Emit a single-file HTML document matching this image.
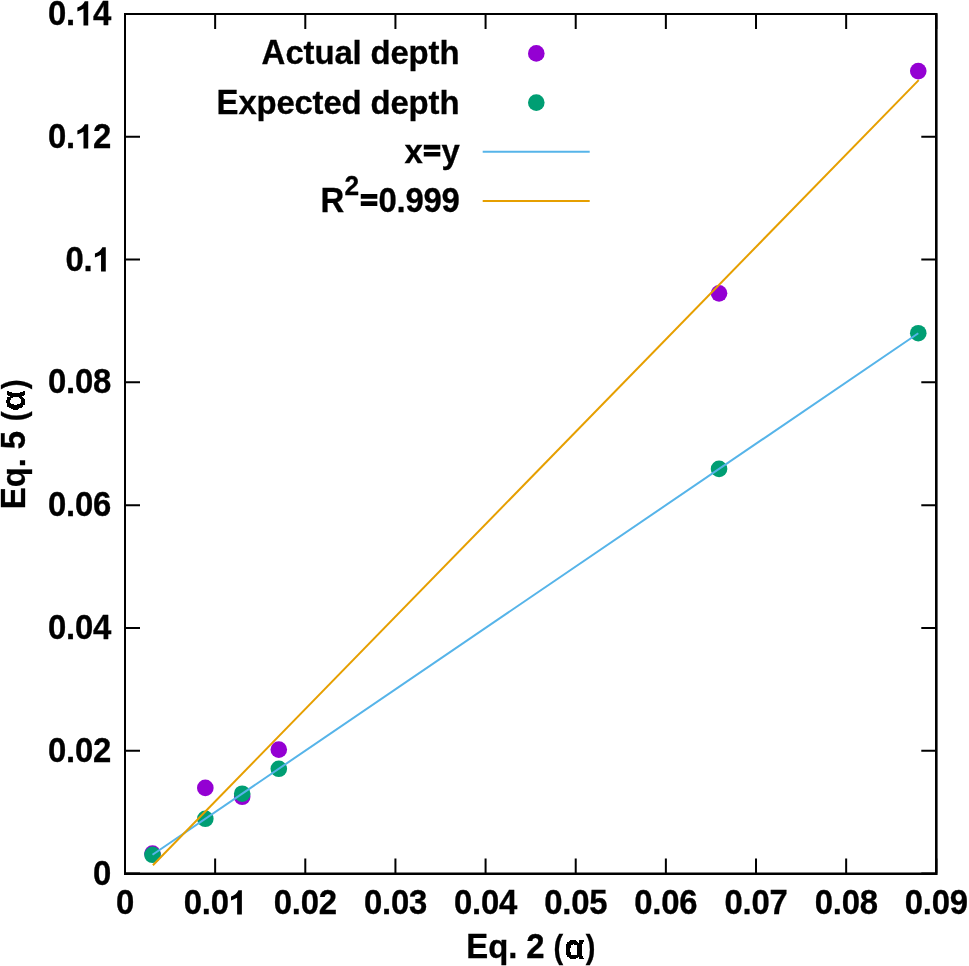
<!DOCTYPE html>
<html><head><meta charset="utf-8"><title>chart</title>
<style>
html,body{margin:0;padding:0;background:#fff;}
body{width:969px;height:966px;overflow:hidden;}
#w{width:969px;height:966px;will-change:transform;background:#fff;}
svg{display:block;}
text{font-family:"Liberation Sans",sans-serif;font-weight:bold;font-size:32.9px;fill:#000;stroke:#000;stroke-width:0.3px;stroke-linejoin:miter;font-kerning:none;white-space:pre;}
</style></head><body><div id="w">
<svg width="969" height="966" viewBox="0 0 969 966">
<rect x="0" y="0" width="969" height="966" fill="#fff"/>
<g stroke="#000" stroke-width="2" fill="none" stroke-linecap="butt">
<path d="M125.00 873.50H140.00 M936.30 873.50H921.30"/>
<path d="M125.00 750.71H140.00 M936.30 750.71H921.30"/>
<path d="M125.00 627.93H140.00 M936.30 627.93H921.30"/>
<path d="M125.00 505.14H140.00 M936.30 505.14H921.30"/>
<path d="M125.00 382.36H140.00 M936.30 382.36H921.30"/>
<path d="M125.00 259.57H140.00 M936.30 259.57H921.30"/>
<path d="M125.00 136.79H140.00 M936.30 136.79H921.30"/>
<path d="M125.00 14.00H140.00 M936.30 14.00H921.30"/>
<path d="M125.00 873.50V858.50 M125.00 14.00V29.00"/>
<path d="M215.14 873.50V858.50 M215.14 14.00V29.00"/>
<path d="M305.29 873.50V858.50 M305.29 14.00V29.00"/>
<path d="M395.43 873.50V858.50 M395.43 14.00V29.00"/>
<path d="M485.58 873.50V858.50 M485.58 14.00V29.00"/>
<path d="M575.72 873.50V858.50 M575.72 14.00V29.00"/>
<path d="M665.87 873.50V858.50 M665.87 14.00V29.00"/>
<path d="M756.01 873.50V858.50 M756.01 14.00V29.00"/>
<path d="M846.16 873.50V858.50 M846.16 14.00V29.00"/>
<path d="M936.30 873.50V858.50 M936.30 14.00V29.00"/>
</g>
<g id="labels">
<g transform="translate(111.00 885.40)"><text transform="translate(-18.00 0.00) scale(1 1.088)" x="0">0</text></g>
<g transform="translate(111.00 762.40)"><text transform="translate(-63.00 0.00) scale(1 1.088)" x="0">0</text><text transform="translate(-45.00 0.00)" x="0">.</text><text transform="translate(-36.00 0.00) scale(1 1.088)" x="0 18">02</text></g>
<g transform="translate(111.00 639.40)"><text transform="translate(-63.00 0.00) scale(1 1.088)" x="0">0</text><text transform="translate(-45.00 0.00)" x="0">.</text><text transform="translate(-36.00 0.00) scale(1 1.088)" x="0 18">04</text></g>
<g transform="translate(111.00 516.40)"><text transform="translate(-63.00 0.00) scale(1 1.088)" x="0">0</text><text transform="translate(-45.00 0.00)" x="0">.</text><text transform="translate(-36.00 0.00) scale(1 1.088)" x="0 18">06</text></g>
<g transform="translate(111.00 393.40)"><text transform="translate(-63.00 0.00) scale(1 1.088)" x="0">0</text><text transform="translate(-45.00 0.00)" x="0">.</text><text transform="translate(-36.00 0.00) scale(1 1.088)" x="0 18">08</text></g>
<g transform="translate(110.55 271.40)"><text transform="translate(-45.00 0.00) scale(1 1.088)" x="0">0</text><text transform="translate(-27.00 0.00)" x="0">.</text><path transform="translate(-18.00 0.00) scale(0.03290 -0.03405)" d="M402 0H258V491Q165 445 72 408V524Q150 548 215 600Q270 645 297 710H402Z"/></g>
<g transform="translate(111.00 148.40)"><text transform="translate(-63.00 0.00) scale(1 1.088)" x="0">0</text><text transform="translate(-45.00 0.00)" x="0">.</text><path transform="translate(-36.00 0.00) scale(0.03290 -0.03405)" d="M402 0H258V491Q165 445 72 408V524Q150 548 215 600Q270 645 297 710H402Z"/><text transform="translate(-18.00 0.00) scale(1 1.088)" x="0">2</text></g>
<g transform="translate(111.00 25.40)"><text transform="translate(-63.00 0.00) scale(1 1.088)" x="0">0</text><text transform="translate(-45.00 0.00)" x="0">.</text><path transform="translate(-36.00 0.00) scale(0.03290 -0.03405)" d="M402 0H258V491Q165 445 72 408V524Q150 548 215 600Q270 645 297 710H402Z"/><text transform="translate(-18.00 0.00) scale(1 1.088)" x="0">4</text></g>
<g transform="translate(125.00 914.40)"><text transform="translate(-9.00 0.00) scale(1 1.088)" x="0">0</text></g>
<g transform="translate(215.14 914.40)"><text transform="translate(-31.50 0.00) scale(1 1.088)" x="0">0</text><text transform="translate(-13.50 0.00)" x="0">.</text><text transform="translate(-4.50 0.00) scale(1 1.088)" x="0">0</text><path transform="translate(13.50 0.00) scale(0.03290 -0.03405)" d="M402 0H258V491Q165 445 72 408V524Q150 548 215 600Q270 645 297 710H402Z"/></g>
<g transform="translate(305.29 914.40)"><text transform="translate(-31.50 0.00) scale(1 1.088)" x="0">0</text><text transform="translate(-13.50 0.00)" x="0">.</text><text transform="translate(-4.50 0.00) scale(1 1.088)" x="0 18">02</text></g>
<g transform="translate(395.43 914.40)"><text transform="translate(-31.50 0.00) scale(1 1.088)" x="0">0</text><text transform="translate(-13.50 0.00)" x="0">.</text><text transform="translate(-4.50 0.00) scale(1 1.088)" x="0 18">03</text></g>
<g transform="translate(485.58 914.40)"><text transform="translate(-31.50 0.00) scale(1 1.088)" x="0">0</text><text transform="translate(-13.50 0.00)" x="0">.</text><text transform="translate(-4.50 0.00) scale(1 1.088)" x="0 18">04</text></g>
<g transform="translate(575.72 914.40)"><text transform="translate(-31.50 0.00) scale(1 1.088)" x="0">0</text><text transform="translate(-13.50 0.00)" x="0">.</text><text transform="translate(-4.50 0.00) scale(1 1.088)" x="0 18">05</text></g>
<g transform="translate(665.87 914.40)"><text transform="translate(-31.50 0.00) scale(1 1.088)" x="0">0</text><text transform="translate(-13.50 0.00)" x="0">.</text><text transform="translate(-4.50 0.00) scale(1 1.088)" x="0 18">06</text></g>
<g transform="translate(756.01 914.40)"><text transform="translate(-31.50 0.00) scale(1 1.088)" x="0">0</text><text transform="translate(-13.50 0.00)" x="0">.</text><text transform="translate(-4.50 0.00) scale(1 1.088)" x="0 18">07</text></g>
<g transform="translate(846.16 914.40)"><text transform="translate(-31.50 0.00) scale(1 1.088)" x="0">0</text><text transform="translate(-13.50 0.00)" x="0">.</text><text transform="translate(-4.50 0.00) scale(1 1.088)" x="0 18">08</text></g>
<g transform="translate(936.30 914.40)"><text transform="translate(-31.50 0.00) scale(1 1.088)" x="0">0</text><text transform="translate(-13.50 0.00)" x="0">.</text><text transform="translate(-4.50 0.00) scale(1 1.088)" x="0 18">09</text></g>
<g transform="translate(530.65 957.80)"><text transform="translate(-64.50 0.00) scale(1 1.05)" x="0">E</text><text transform="translate(-42.50 0.00)" x="0 20">q.</text><text transform="translate(-4.50 0.00) scale(1 1.088)" x="0">2</text><text transform="translate(22.75 0.00) scale(0.88 1.0)">(</text><text transform="translate(55.07 0.00) scale(0.88 1.0)">)</text></g>
<g transform="translate(24.65 444.65) rotate(-90)"><text transform="translate(-64.50 0.00) scale(1 1.052)" x="0">E</text><text transform="translate(-42.50 0.00)" x="0 20">q.</text><text transform="translate(-4.50 0.00) scale(1 1.07)" x="0">5</text><text transform="translate(23.40 0.00) scale(0.9 1.03)">(</text><text transform="translate(55.50 0.00) scale(0.9 1.03)">)</text></g>
<path fill-rule="evenodd" d="M570 940L576 940L576 941L577 941L577 942L578 942L578 943L579 943L579 940L584 940L584 942L583 942L583 944L582 944L582 956L583 956L583 958L584 958L584 959L579 959L579 957L578 957L578 958L576 958L576 959L570 959L570 958L569 958L569 957L567 957L567 955L566 955L566 944L567 944L567 942L569 942L569 941L570 941ZM571 945L573 945L573 944L574 944L574 945L577 945L577 955L571 955L571 952L570 952L570 948L571 948Z"/>
<path fill-rule="evenodd" d="M7 391L9 391L9 392L12 392L12 393L20 393L20 392L23 392L23 391L25 391L25 395L24 395L24 396L22 396L22 397L23 397L23 398L24 398L24 399L25 399L25 405L23 405L23 407L22 407L22 408L19 408L19 409L18 409L18 410L13 410L13 409L11 409L11 408L9 408L9 407L7 407L7 403L6 403L6 400L7 400L7 397L10 397L10 396L8 396L8 395L7 395ZM13 397L19 397L19 398L20 398L20 399L21 399L21 403L20 403L20 404L17 404L17 405L14 405L14 404L11 404L11 403L10 403L10 400L11 400L11 398L13 398Z"/>
<g transform="translate(459.40 63.70)"><text transform="translate(-198.00 0.00) scale(1 1.05)" x="0">A</text><text transform="translate(-174.00 0.00)" x="0 18 29 49 67">ctual</text><text transform="translate(-89.00 0.00)" x="0 20 38 58 69">depth</text></g>
<g transform="translate(459.40 113.70)"><text transform="translate(-243.00 0.00) scale(1 1.05)" x="0">E</text><text transform="translate(-221.00 0.00)" x="0 18 38 56 74 85 103">xpected</text><text transform="translate(-89.00 0.00)" x="0 20 38 58 69">depth</text></g>
<g transform="translate(459.40 162.70)"><text transform="translate(-55.00 0.00)" x="0">x</text><path d="M-35.63 -18.03H-19.07V-13.26H-35.63ZM-35.63 -10.79H-19.07V-6.15H-35.63Z"/><text transform="translate(-18.00 0.00)" x="0">y</text></g>
<g transform="translate(459.40 212.10)"><text transform="translate(-139.00 0.00) scale(1 1.05)" x="0">R</text><text transform="translate(-115.00 -17.05) scale(1 1.04)" x="0" style="font-size:26.32px">2</text><path d="M-98.63 -18.03H-82.07V-13.26H-98.63ZM-98.63 -10.79H-82.07V-6.15H-98.63Z"/><text transform="translate(-81.00 0.00) scale(1 1.088)" x="0">0</text><text transform="translate(-63.00 0.00)" x="0">.</text><text transform="translate(-54.00 0.00) scale(1 1.088)" x="0 18 36">999</text></g>
</g>
<g fill="#9400d3">
<circle cx="536.3" cy="53.40" r="8.3"/>
<circle cx="152.49" cy="853.55" r="8.3"/>
<circle cx="205.32" cy="787.92" r="8.3"/>
<circle cx="242.19" cy="796.82" r="8.3"/>
<circle cx="278.79" cy="749.61" r="8.3"/>
<circle cx="719.05" cy="293.34" r="8.3"/>
<circle cx="918.27" cy="71.10" r="8.3"/>
</g>
<g fill="#009e73">
<circle cx="536.3" cy="102.60" r="8.3"/>
<circle cx="152.49" cy="854.78" r="8.3"/>
<circle cx="205.32" cy="818.80" r="8.3"/>
<circle cx="242.19" cy="793.69" r="8.3"/>
<circle cx="278.79" cy="768.76" r="8.3"/>
<circle cx="719.05" cy="468.92" r="8.3"/>
<circle cx="918.27" cy="333.24" r="8.3"/>
</g>
<g fill="none" stroke-width="2" stroke-linecap="butt">
<path stroke="#56b4e9" d="M482.7 151.80H589.7"/>
<path stroke="#56b4e9" d="M152.49 854.78L918.27 333.24"/>
<path stroke="#e69f00" d="M482.7 201.00H589.7"/>
<path stroke="#e69f00" d="M152.90 865.30L918.70 80.10"/>
</g>
<path fill="#000" d="M124 13H937.6V875H124ZM126 15V872.45H935V15Z"/>
</svg>
</div></body></html>
